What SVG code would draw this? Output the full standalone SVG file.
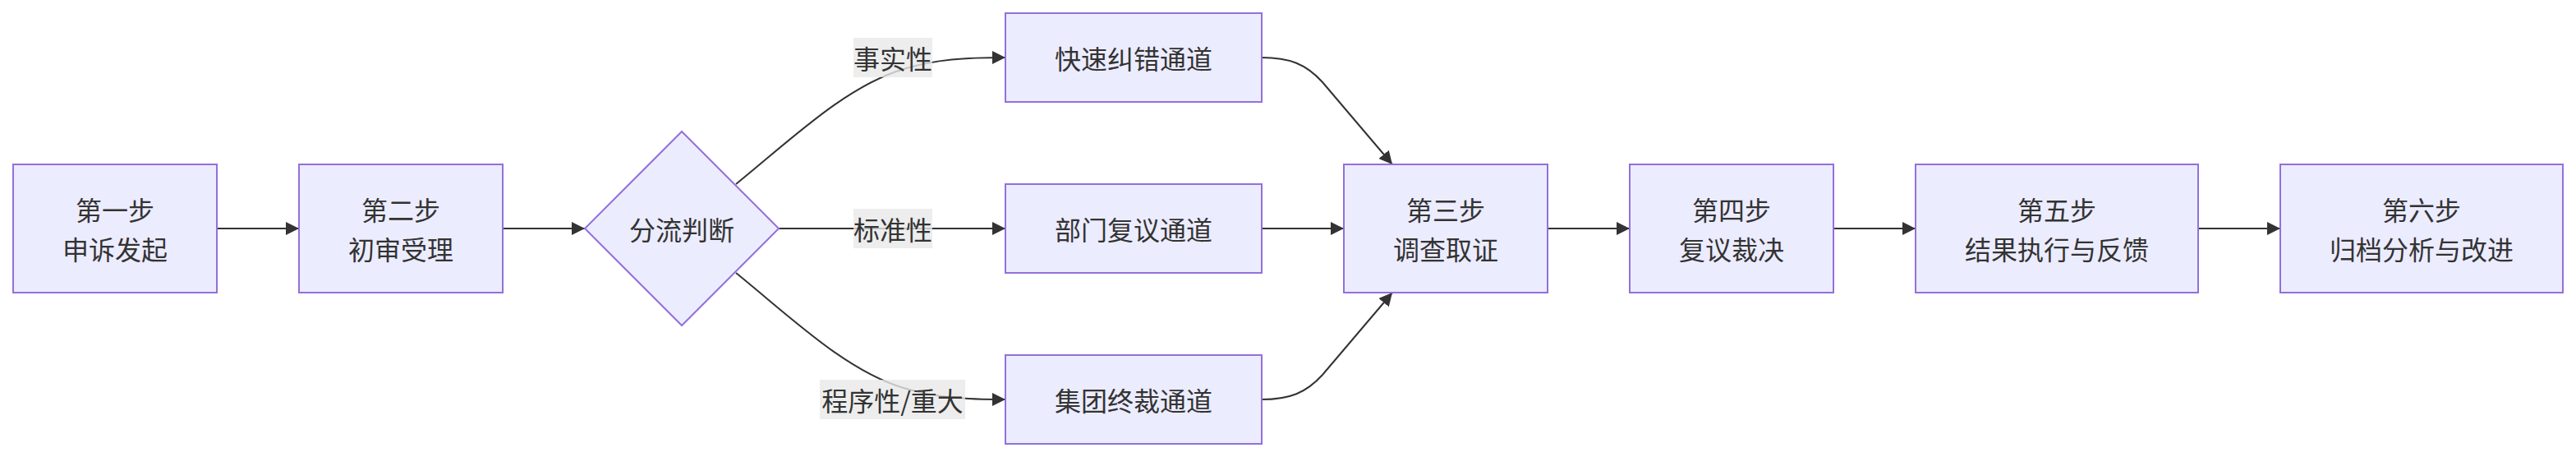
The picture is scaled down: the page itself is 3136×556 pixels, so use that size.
<svg xmlns="http://www.w3.org/2000/svg" width="3136" height="556" viewBox="0 0 3136 556">
<style>
.node rect, .node polygon { fill: #ECECFF; stroke: #9370DB; stroke-width: 2; }
.node text, .elabel text { font-family: "Noto Sans CJK SC", "Noto Sans", "Liberation Sans", sans-serif; font-size: 32px; fill: #333333; text-anchor: middle; dominant-baseline: central; }
.edges path { fill: none; stroke: #333333; stroke-width: 2; }
.elabel rect { fill: #E8E8E8; fill-opacity: 0.8; }
</style>
<defs>
<marker id="arrow" viewBox="0 0 10 10" refX="10" refY="5" markerUnits="userSpaceOnUse" markerWidth="16" markerHeight="16" orient="auto">
<path d="M0,0 L10,5 L0,10 z" fill="#333333"/>
</marker>
</defs>
<rect width="3136" height="556" fill="#FFFFFF"/>
<g id="edges" class="edges">
<path d="M264,278 L364,278" marker-end="url(#arrow)"/>
<path d="M612,278 L712,278" marker-end="url(#arrow)"/>
<path d="M896,224 C965,168 1030,105 1100,84 C1140,72 1175,70 1224,70" marker-end="url(#arrow)"/>
<path d="M948,278 L1224,278" marker-end="url(#arrow)"/>
<path d="M896,332 C965,388 1030,451 1100,472 C1140,484 1175,486 1224,486" marker-end="url(#arrow)"/>
<path d="M1536,70 C1570,70 1590,78 1610,100 L1695,200" marker-end="url(#arrow)"/>
<path d="M1536,278 L1636,278" marker-end="url(#arrow)"/>
<path d="M1536,486 C1570,486 1590,478 1610,456 L1695,356" marker-end="url(#arrow)"/>
<path d="M1884,278 L1984,278" marker-end="url(#arrow)"/>
<path d="M2232,278 L2332,278" marker-end="url(#arrow)"/>
<path d="M2676,278 L2776,278" marker-end="url(#arrow)"/>
</g>
<g id="edge-labels">
<g class="elabel" id="label-fact"><rect x="1039" y="46" width="96" height="48"/><text x="1087" y="70">事实性</text></g>
<g class="elabel" id="label-std"><rect x="1039" y="254" width="96" height="48"/><text x="1087" y="278">标准性</text></g>
<g class="elabel" id="label-proc"><rect x="998" y="462" width="177" height="48"/><text x="1086.5" y="486">程序性/重大</text></g>
</g>
<g id="step1" class="node"><rect x="16" y="200" width="248" height="156"/><text x="140" y="254">第一步</text><text x="140" y="302">申诉发起</text></g>
<g id="step2" class="node"><rect x="364" y="200" width="248" height="156"/><text x="488" y="254">第二步</text><text x="488" y="302">初审受理</text></g>
<g id="decide" class="node"><polygon points="830,160 948,278 830,396 712,278"/><text x="830" y="278">分流判断</text></g>
<g id="fast" class="node"><rect x="1224" y="16" width="312" height="108"/><text x="1380" y="70">快速纠错通道</text></g>
<g id="dept" class="node"><rect x="1224" y="224" width="312" height="108"/><text x="1380" y="278">部门复议通道</text></g>
<g id="group" class="node"><rect x="1224" y="432" width="312" height="108"/><text x="1380" y="486">集团终裁通道</text></g>
<g id="step3" class="node"><rect x="1636" y="200" width="248" height="156"/><text x="1760" y="254">第三步</text><text x="1760" y="302">调查取证</text></g>
<g id="step4" class="node"><rect x="1984" y="200" width="248" height="156"/><text x="2108" y="254">第四步</text><text x="2108" y="302">复议裁决</text></g>
<g id="step5" class="node"><rect x="2332" y="200" width="344" height="156"/><text x="2504" y="254">第五步</text><text x="2504" y="302">结果执行与反馈</text></g>
<g id="step6" class="node"><rect x="2776" y="200" width="344" height="156"/><text x="2948" y="254">第六步</text><text x="2948" y="302">归档分析与改进</text></g>
</svg>
